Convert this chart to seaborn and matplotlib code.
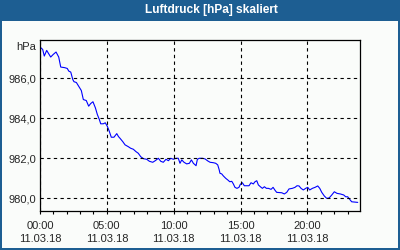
import matplotlib
matplotlib.use("Agg")
import matplotlib.pyplot as plt
from matplotlib.patches import Rectangle
from matplotlib.ticker import MultipleLocator, FixedLocator
import seaborn as sns
import pandas as pd

# ---- data ----
hours = [0.05, 0.20, 0.32, 0.50, 0.80, 0.99, 1.20, 1.40, 1.55, 1.85, 2.04, 2.15, 2.30, 2.45,
         2.54, 2.72, 2.89, 3.09, 3.24, 3.46, 3.64, 3.79, 3.96, 4.14, 4.29, 4.44, 4.54, 4.73,
         4.88, 5.03, 5.18, 5.33, 5.53, 5.74, 5.87, 5.98, 6.19, 6.36, 6.60, 6.78, 6.98, 7.18,
         7.35, 7.53, 7.73, 7.98, 8.18, 8.43, 8.62, 8.85, 9.03, 9.22, 9.42, 9.60, 9.78, 9.97,
         10.17, 10.34, 10.47, 10.60, 10.77, 10.97, 11.17, 11.32, 11.47, 11.67, 11.77, 11.91,
         12.14, 12.34, 12.54, 12.72, 12.96, 13.14, 13.29, 13.39, 13.46, 13.59, 13.71, 13.89,
         14.04, 14.19, 14.34, 14.46, 14.58, 14.73, 14.88, 14.98, 15.13, 15.28, 15.63, 15.78,
         15.95, 16.08, 16.21, 16.33, 16.48, 16.63, 16.78, 16.93, 17.08, 17.28, 17.43, 17.58,
         17.70, 18.08, 18.27, 18.45, 18.62, 18.87, 19.07, 19.22, 19.37, 19.52, 19.69, 19.87,
         20.02, 20.17, 20.37, 20.57, 20.77, 20.92, 21.07, 21.26, 21.44, 21.62, 21.82, 22.01,
         22.21, 22.46, 22.71, 22.86, 23.01, 23.16, 23.31, 23.76]
pressure = [987.52, 987.43, 987.10, 987.38, 987.05, 987.18, 987.30, 987.05, 986.55, 986.52,
            986.48, 986.35, 986.30, 985.93, 985.82, 985.78, 985.60, 985.38, 984.93, 984.88,
            984.60, 984.73, 984.82, 984.52, 984.18, 983.93, 983.72, 983.72, 983.77, 983.60,
            983.35, 983.05, 983.05, 983.23, 983.08, 983.00, 982.83, 982.67, 982.58, 982.50,
            982.45, 982.33, 982.25, 982.08, 981.98, 981.95, 981.85, 981.80, 981.88, 982.00,
            981.85, 981.80, 981.95, 981.88, 982.00, 981.95, 982.00, 982.00, 981.75, 981.92,
            981.80, 981.72, 981.75, 981.92, 981.75, 981.63, 981.95, 982.00, 982.00, 981.97,
            981.87, 981.80, 981.78, 981.75, 981.67, 981.45, 981.25, 981.22, 981.12, 981.00,
            980.92, 980.83, 980.85, 980.72, 980.55, 980.50, 980.55, 980.70, 980.78, 980.63,
            980.63, 980.78, 980.72, 980.83, 980.88, 980.67, 980.58, 980.50, 980.58, 980.50,
            980.50, 980.45, 980.55, 980.40, 980.30, 980.28, 980.22, 980.30, 980.47, 980.50,
            980.55, 980.63, 980.62, 980.50, 980.42, 980.50, 980.55, 980.42, 980.50, 980.55,
            980.62, 980.50, 980.30, 980.12, 980.00, 980.02, 980.17, 980.33, 980.25, 980.22,
            980.17, 980.08, 980.08, 979.95, 979.83, 979.80]

x_ticks = [0, 5, 10, 15, 20]
x_tick_labels = ["00:00\n11.03.18", "05:00\n11.03.18", "10:00\n11.03.18",
                 "15:00\n11.03.18", "20:00\n11.03.18"]
y_ticks = [980, 982, 984, 986]
y_tick_labels = ["980,0", "982,0", "984,0", "986,0"]
title = "Luftdruck [hPa] skaliert"
unit = "hPa"

df = pd.DataFrame({"hour": hours, "hPa": pressure})

# ---- style ----
sns.set_style("white")
plt.rcParams["font.family"] = ["Liberation Sans", "DejaVu Sans"]

W, H = 400, 250
frame_blue = "#1d5e92"
inner_bg = "#fafcfa"

fig = plt.figure(figsize=(W / 100, H / 100), dpi=100)
fig.patch.set_facecolor(frame_blue)
fig.patches.append(Rectangle((2 / W, 2 / H), (W - 4) / W, (H - 2 - 21) / H,
                             transform=fig.transFigure, facecolor=inner_bg,
                             edgecolor="none", zorder=-5))
fig.text(211 / W, 1 - 10.5 / H, title, color="white", fontsize=8.6, fontweight="bold",
         ha="center", va="center")

ax = fig.add_axes([40 / W, (H - 211) / H, 320 / W, 171 / H])
ax.set_zorder(2)
ax.set_facecolor(inner_bg)

sns.lineplot(data=df, x="hour", y="hPa", ax=ax, color="#0000ff", linewidth=0.8)

ax.set_xlim(0, 23.93)
ax.set_ylim(979.37, 987.9)

ax.xaxis.set_major_locator(FixedLocator(x_ticks))
ax.set_xticklabels(x_tick_labels, fontsize=8, linespacing=1.3)
ax.xaxis.set_minor_locator(MultipleLocator(1))
ax.set_yticks(y_ticks)
ax.set_yticklabels(y_tick_labels, fontsize=8)

ax.tick_params(axis="x", which="both", direction="out", length=2.5, width=0.8,
               color="black", pad=5, bottom=True)
ax.tick_params(axis="y", which="both", length=0, pad=3)

ax.grid(True, which="major", color="black", linestyle=(0, (3, 3)), linewidth=0.8)
ax.set_axisbelow(False)
for s in ax.spines.values():
    s.set_visible(True)
    s.set_color("black")
    s.set_linewidth(0.9)

ax.set_xlabel("")
ax.set_ylabel("")
ax.text(-4 / 320, 1 - 6.7 / 171, unit, transform=ax.transAxes, ha="right", va="center",
        fontsize=8)

fig.savefig("out.png", dpi=100, facecolor=fig.get_facecolor())
